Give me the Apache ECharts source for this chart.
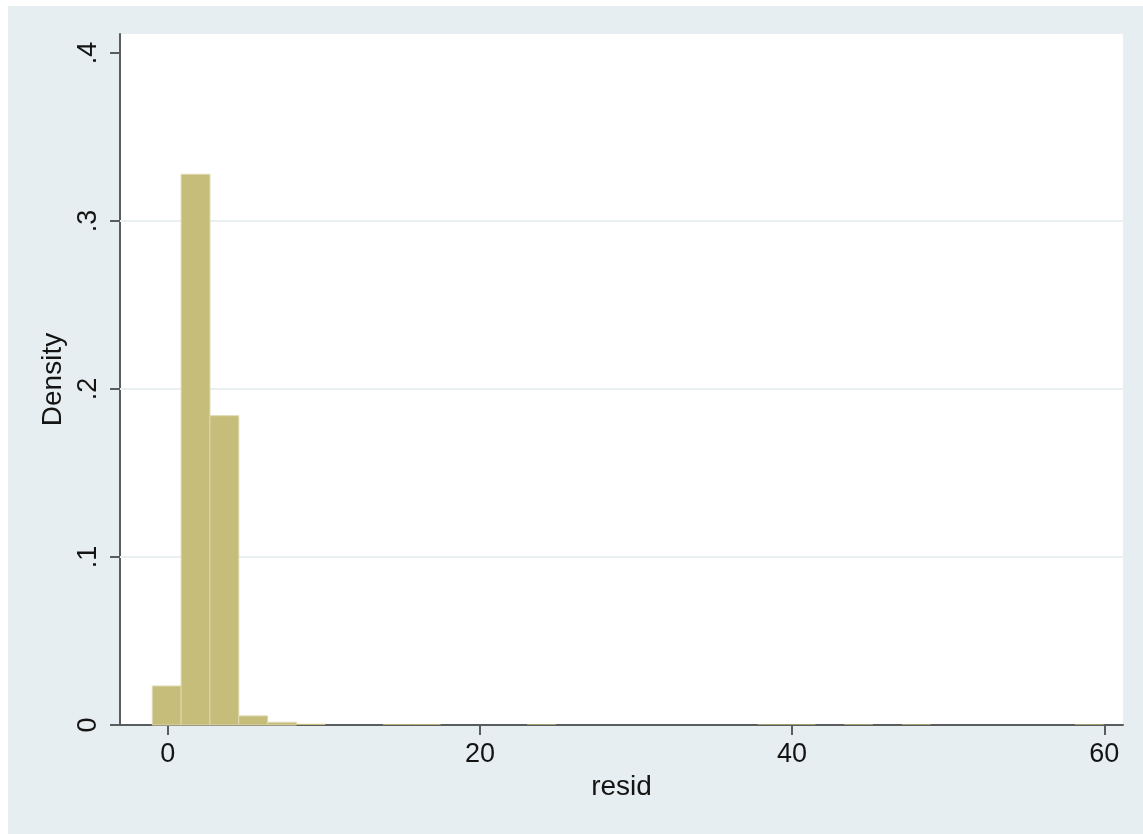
<!DOCTYPE html>
<html>
<head>
<meta charset="utf-8">
<script src="https://cdn.jsdelivr.net/npm/echarts@6/dist/echarts.min.js"></script>
<style>
  html, body { margin: 0; padding: 0; background: #ffffff; }
  #chart { position: absolute; left: 8px; top: 6px; width: 1135px; height: 828px; }
</style>
</head>
<body>
<div id="chart"></div>
<script>
// Histogram of residuals: 33 equal-width bins
const binStart = -0.99;
const binWidth = 1.847;
const densities = [
  0.0232, 0.3278, 0.1841, 0.0054, 0.0016, 0.0007, 0, 0,
  0.0005, 0.0005, 0, 0, 0, 0.0004, 0, 0,
  0, 0, 0, 0, 0, 0.0004, 0.0004, 0,
  0.0004, 0, 0.0004, 0, 0, 0, 0, 0,
  0.0004
];
const xTicks = [0, 20, 40, 60];
const yTicks = [0, 0.1, 0.2, 0.3, 0.4];
const yTickLabels = ['0', '.1', '.2', '.3', '.4'];
const gridValues = [0.1, 0.2, 0.3];

const xMin = -3.06, xMax = 61.2;
const bins = densities.map((d, i) => [binStart + i * binWidth, binStart + (i + 1) * binWidth, d]);

const font = 'Liberation Sans, Arial, Helvetica, sans-serif';
const axisColor = '#5a5d5f';
const textColor = '#141414';

const chart = echarts.init(document.getElementById('chart'));
chart.setOption({
  backgroundColor: '#e7eef1',
  animation: false,
  grid: {
    left: 112, top: 28, right: 20, bottom: 109,
    show: true, backgroundColor: '#ffffff', borderWidth: 0
  },
  xAxis: {
    type: 'value',
    min: xMin, max: xMax,
    name: 'resid',
    nameLocation: 'middle',
    nameGap: 48,
    nameTextStyle: { fontFamily: font, fontSize: 28, color: textColor },
    axisLine: { onZero: false, lineStyle: { color: axisColor, width: 2 } },
    axisTick: { show: true, length: 10, customValues: xTicks, lineStyle: { color: axisColor, width: 2 } },
    axisLabel: { customValues: xTicks, margin: 16, fontFamily: font, fontSize: 27, color: textColor },
    splitLine: { show: false }
  },
  yAxis: {
    type: 'value',
    min: 0, max: 0.4113,
    name: 'Density',
    nameLocation: 'middle',
    nameRotate: 90,
    nameGap: 50,
    nameTextStyle: { fontFamily: font, fontSize: 28, color: textColor },
    axisLine: { show: true, onZero: false, lineStyle: { color: axisColor, width: 2 } },
    axisTick: { show: true, length: 10, customValues: yTicks, lineStyle: { color: axisColor, width: 2 } },
    axisLabel: {
      customValues: yTicks,
      rotate: 90,
      margin: 18,
      fontFamily: font, fontSize: 27, color: textColor,
      formatter: v => {
        const i = yTicks.findIndex(t => Math.abs(t - v) < 1e-9);
        return i >= 0 ? yTickLabels[i] : '';
      }
    },
    splitLine: { show: false }
  },
  series: [
    {
      // horizontal reference lines, drawn behind the bars
      type: 'custom',
      data: gridValues.map(v => [v]),
      silent: true,
      z: 1,
      encode: { y: 0 },
      renderItem: (params, api) => {
        const a = api.coord([xMin, api.value(0)]);
        const b = api.coord([xMax, api.value(0)]);
        return {
          type: 'line',
          shape: { x1: a[0], y1: a[1], x2: b[0], y2: b[1] },
          style: { stroke: '#e8f0f1', lineWidth: 2 }
        };
      }
    },
    {
      type: 'custom',
      data: bins,
      renderItem: (params, api) => {
        const h = api.value(2);
        if (!(h > 0)) return null;
        const p0 = api.coord([api.value(0), h]);
        const p1 = api.coord([api.value(1), 0]);
        const big = p1[1] - p0[1] > 2;
        return {
          type: 'rect',
          shape: { x: p0[0], y: p0[1], width: p1[0] - p0[0], height: p1[1] - p0[1] },
          style: big
            ? { fill: '#c6bd7b', stroke: '#ddd8ad', lineWidth: 1 }
            : { fill: '#c6bd7b' }
        };
      },
      encode: { x: [0, 1], y: 2 },
      z: 3
    }
  ]
});
</script>
</body>
</html>
